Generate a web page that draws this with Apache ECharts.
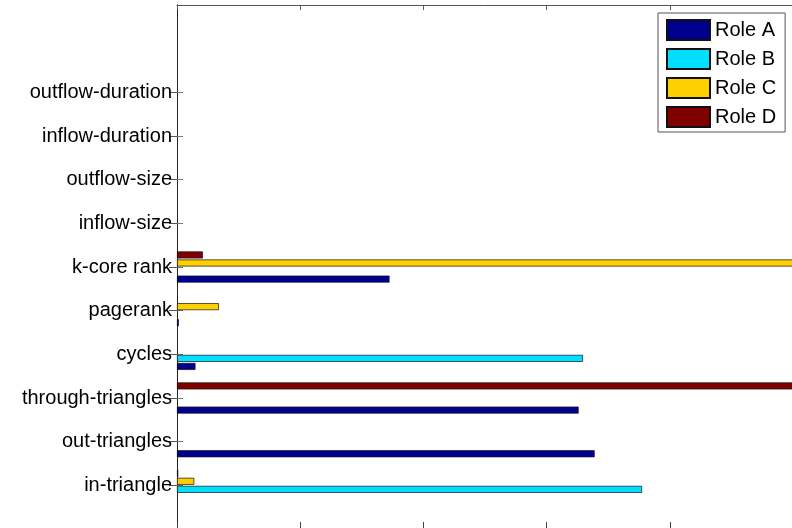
<!DOCTYPE html>
<html>
<head>
<meta charset="utf-8">
<script src="https://cdn.jsdelivr.net/npm/echarts@6/dist/echarts.min.js"></script>
<style>
  html, body { margin: 0; padding: 0; background: #fff; }
  #chart { width: 792px; height: 528px; }
</style>
</head>
<body>
<div id="chart"></div>
<script>
// slots 0..12 on the y axis, features sit at 1..10
var features = ['', 'in-triangle', 'out-triangles', 'through-triangles', 'cycles', 'pagerank',
    'k-core rank', 'inflow-size', 'outflow-size', 'inflow-duration', 'outflow-duration', '', ''];
var roleNames = ['Role A', 'Role B', 'Role C', 'Role D'];
var roleColors = ['#00008f', '#00dfff', '#ffd000', '#800000'];

// normalised values per feature (in-triangle .. outflow-duration)
var roleA = [0, 0.678, 0.652, 0.030, 0.003, 0.345, 0, 0, 0, 0];
var roleB = [0.755, 0, 0, 0.659, 0, 0, 0, 0, 0, 0];
var roleC = [0.028, 0, 0, 0, 0.068, 1.0, 0, 0, 0, 0];
var roleD = [0.002, 0, 1.0, 0, 0, 0.042, 0, 0, 0, 0];

var xTicks = [0, 0.2, 0.4, 0.6, 0.8, 1];

// zero bars would only draw a line over the axis, so leave them out
function pad(arr) {
    var vals = arr.map(function (v) { return v === 0 ? null : v; });
    return [null].concat(vals, [null, null]);
}

var chart = echarts.init(document.getElementById('chart'));
var font = 'Liberation Sans, Arial, Helvetica, sans-serif';
var tickOnFeature = function (idx, val) { return val !== ''; };

var roles = [roleA, roleB, roleC, roleD];
var series = [];
// first series goes on top in a y-category group, so add D first and A last
for (var i = roles.length - 1; i >= 0; i--) {
    series.push({
        name: roleNames[i],
        type: 'bar',
        data: pad(roles[i]),
        barWidth: 7,
        barGap: '15%',
        itemStyle: { color: roleColors[i], borderColor: '#111', borderWidth: 0.7 },
        animation: false
    });
}

var option = {
    backgroundColor: '#fff',
    grid: { left: 177, top: 5, right: -1, bottom: -1, outerBoundsMode: 'none' },
    legend: {
        orient: 'vertical',
        left: 658,
        top: 13,
        padding: [6, 9, 4, 8],
        itemWidth: 43,
        itemHeight: 20,
        itemGap: 7,
        icon: 'rect',
        backgroundColor: '#fff',
        borderColor: '#555',
        borderWidth: 1,
        borderRadius: 0,
        data: roleNames,
        textStyle: { fontFamily: font, fontSize: 20, color: '#000', lineHeight: 20 }
    },
    xAxis: [{
        type: 'value',
        min: xTicks[0],
        max: xTicks[xTicks.length - 1],
        interval: 0.2,
        axisLine: { show: true, lineStyle: { color: '#333' } },
        axisTick: { show: true, inside: true, length: 7, lineStyle: { color: '#444' } },
        axisLabel: { show: false },
        splitLine: { show: false }
    }, {
        type: 'value',
        position: 'top',
        min: xTicks[0],
        max: xTicks[xTicks.length - 1],
        interval: 0.2,
        axisLine: { show: true, lineStyle: { color: '#555' } },
        axisTick: { show: true, inside: true, length: 5, lineStyle: { color: '#555' } },
        axisLabel: { show: false },
        splitLine: { show: false }
    }],
    yAxis: [{
        type: 'category',
        data: features,
        boundaryGap: false,
        axisLine: { show: true, lineStyle: { color: '#222' } },
        axisTick: { show: true, inside: true, length: 6, interval: tickOnFeature, lineStyle: { color: '#777' } },
        axisLabel: { interval: 0, margin: 5, fontFamily: font, fontSize: 20, color: '#000' },
        splitLine: { show: false }
    }, {
        type: 'category',
        data: features,
        position: 'right',
        boundaryGap: false,
        axisLine: { show: true, lineStyle: { color: '#222' } },
        axisTick: { show: true, inside: true, length: 8, interval: tickOnFeature, lineStyle: { color: '#555' } },
        axisLabel: { show: false },
        splitLine: { show: false }
    }],
    series: series
};

chart.setOption(option);
</script>
</body>
</html>
